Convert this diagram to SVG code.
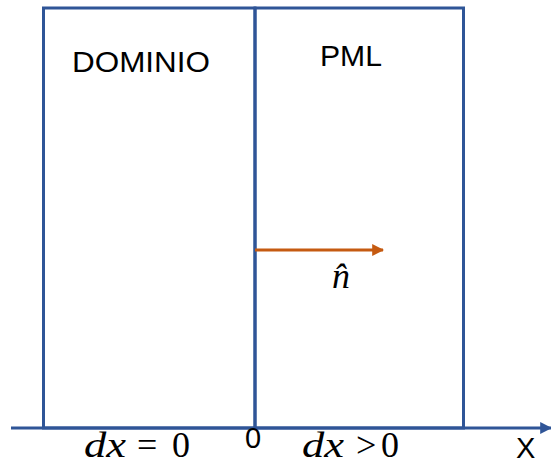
<svg xmlns="http://www.w3.org/2000/svg" width="551" height="466" viewBox="0 0 551 466">
<style>
.box{fill:none;stroke:#2F5597;stroke-width:3}
.lbl{font-family:"Liberation Sans","DejaVu Sans",sans-serif;font-size:29px;fill:#000}
.math{font-family:"Liberation Serif","DejaVu Serif",serif;font-size:36px;fill:#000}
</style>
<defs>
<marker id="ab" viewBox="0 0 10 10" refX="9" refY="5" markerWidth="4" markerHeight="4" orient="auto" markerUnits="strokeWidth"><path d="M0,0L10,5L0,10z" fill="#2F5597"/></marker>
<marker id="ao" viewBox="0 0 10 10" refX="9" refY="5" markerWidth="4" markerHeight="4" orient="auto" markerUnits="strokeWidth"><path d="M0,0L10,5L0,10z" fill="#C55A11"/></marker>
</defs>
<g id="dominio">
<rect class="box" x="43.5" y="8" width="211.5" height="420"/>
<text class="lbl" x="72" y="72" textLength="138" lengthAdjust="spacingAndGlyphs">DOMINIO</text>
</g>
<g id="pml">
<rect class="box" x="255" y="8" width="208.5" height="420"/>
<text class="lbl" x="320" y="66" textLength="62" lengthAdjust="spacingAndGlyphs">PML</text>
</g>
<g id="connectors">
<line x1="11" y1="428" x2="551" y2="428" stroke="#2F5597" stroke-width="3" marker-end="url(#ab)"/>
<line x1="255" y1="250" x2="383" y2="250" stroke="#C55A11" stroke-width="3" marker-end="url(#ao)"/>
</g>
<g id="labels">
<text class="math" x="332" y="288" font-style="italic">n&#x302;</text>
<text class="math" y="457"><tspan x="84" font-style="italic" textLength="42" lengthAdjust="spacingAndGlyphs">dx</tspan><tspan x="137">=</tspan><tspan x="172">0</tspan></text>
<text class="lbl" x="245" y="448" font-size="28">0</text>
<text class="math" y="457"><tspan x="302" font-style="italic" textLength="42" lengthAdjust="spacingAndGlyphs">dx</tspan><tspan x="356">&gt;</tspan><tspan x="381">0</tspan></text>
<text class="lbl" x="516" y="458" font-size="28">X</text>
</g>
</svg>
